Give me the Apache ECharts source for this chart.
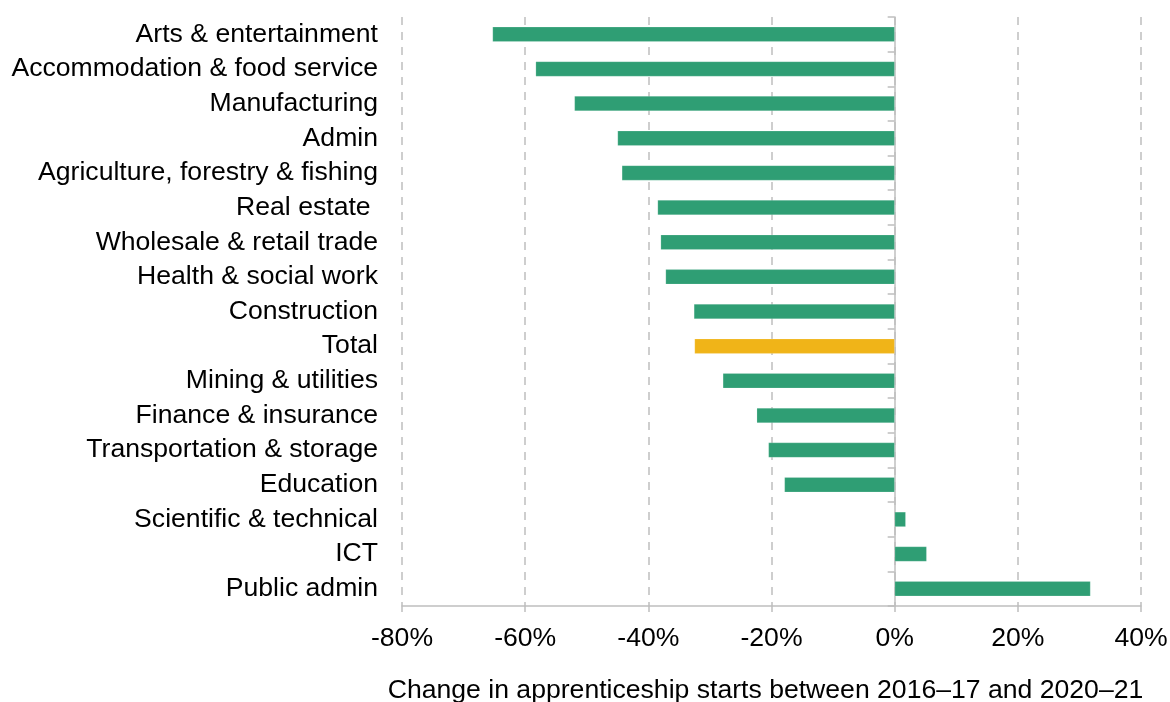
<!DOCTYPE html>
<html>
<head>
<meta charset="utf-8">
<script src="https://cdn.jsdelivr.net/npm/echarts@6/dist/echarts.min.js"></script>
<style>
  html, body { margin: 0; padding: 0; background: #fff; }
  #chart { width: 1170px; height: 702px; }
</style>
</head>
<body>
<div id="chart"></div>
<script>
// sectors, top to bottom
const sectors = [
  'Arts & entertainment',
  'Accommodation & food service',
  'Manufacturing',
  'Admin',
  'Agriculture, forestry & fishing',
  'Real estate ',
  'Wholesale & retail trade',
  'Health & social work',
  'Construction',
  'Total',
  'Mining & utilities',
  'Finance & insurance',
  'Transportation & storage',
  'Education',
  'Scientific & technical',
  'ICT',
  'Public admin'
];

// % change in apprenticeship starts, 2016-17 to 2020-21
const change = [
  -65.3, -58.3, -52.0, -45.0, -44.3, -38.5, -38.0, -37.2, -32.6,
  -32.5, -27.9, -22.4, -20.5, -17.9, 1.8, 5.2, 31.8
];

const xTicks = [-80, -60, -40, -20, 0, 20, 40];

const green = '#2f9e74';
const yellow = '#f0b418';
const grey = '#bfbfbf';
const font = '"Liberation Sans", Arial, sans-serif';
const fs = 26.6;

const chart = echarts.init(document.getElementById('chart'), null, { renderer: 'canvas' });

const barData = change.map((v, i) => ({
  value: v,
  itemStyle: { color: sectors[i] === 'Total' ? yellow : green }
}));

chart.setOption({
  animation: false,
  grid: { left: 402, right: 29, top: 17, bottom: 96, containLabel: false, outerBoundsMode: 'none' },
  xAxis: {
    type: 'value',
    min: xTicks[0],
    max: xTicks[xTicks.length - 1],
    interval: 20,
    axisLine: { show: true, onZero: false, lineStyle: { color: grey, width: 1.5 } },
    axisTick: { show: true, length: 6, lineStyle: { color: grey, width: 1.5 } },
    axisLabel: {
      margin: 19,
      color: '#000',
      fontSize: fs,
      fontFamily: font,
      formatter: v => v + '%'
    },
    splitLine: {
      show: true,
      lineStyle: { color: grey, width: 1.5, type: [8, 7] }
    },
    name: 'Change in apprenticeship starts between 2016–17 and 2020–21',
    nameLocation: 'middle',
    nameGap: 71,
    nameTextStyle: { color: '#000', fontSize: fs, fontFamily: font, padding: [0, 12, 0, 0] }
  },
  yAxis: [
    {
      type: 'category',
      data: sectors,
      inverse: true,
      axisLine: { show: false, onZero: false },
      axisTick: { show: false },
      axisLabel: {
        interval: 0,
        hideOverlap: false,
        margin: 24,
        color: '#000',
        fontSize: fs,
        fontFamily: font,
        padding: [4, 0, 0, 0]
      },
      splitLine: { show: false }
    },
    {
      type: 'category',
      data: sectors,
      inverse: true,
      position: 'left',
      axisLine: { show: true, onZero: true, lineStyle: { color: grey, width: 1.5 } },
      axisTick: { show: true, length: 7, lineStyle: { color: grey, width: 1.5 } },
      axisLabel: { show: false },
      splitLine: { show: false }
    }
  ],
  series: [
    {
      type: 'bar',
      data: barData,
      barWidth: 15,
      yAxisIndex: 0,
      itemStyle: { borderColor: 'rgba(255,255,255,0.35)', borderWidth: 0.5 }
    }
  ]
});
</script>
</body>
</html>
